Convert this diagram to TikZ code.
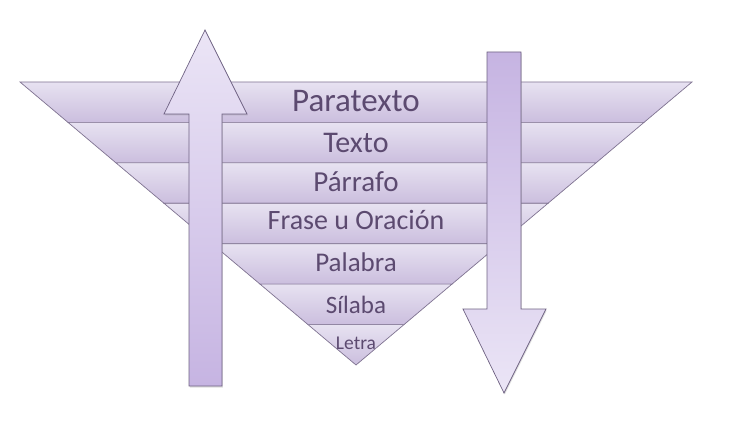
\documentclass[tikz,border=0pt]{standalone}
\usepackage{fontspec}
\setmainfont{Carlito}
\usetikzlibrary{shadows}

\definecolor{bandtop}{HTML}{E7E2F1}
\definecolor{bandbot}{HTML}{CBBEDE}
\definecolor{bandline}{HTML}{7F7391}
\definecolor{arrowlight}{HTML}{EBE5F6}
\definecolor{arrowdark}{HTML}{C6B4E2}
\definecolor{arrowline}{HTML}{6F6283}
\definecolor{labeltext}{HTML}{5C4A70}

\tikzset{
  band/.style={draw=bandline, line width=0.7pt, top color=bandtop, bottom color=bandbot},
  bigarrow/.style={draw=arrowline, line width=0.7pt,
    drop shadow={opacity=0.25, shadow xshift=0.8pt, shadow yshift=-1.5pt}},
  level/.style={text=labeltext, anchor=base, inner sep=0pt}
}

\begin{document}
\begin{tikzpicture}[x=1pt, y=-1pt]
    \useasboundingbox (0,0) rectangle (734,441);
    % Layers of the inverted pyramid
    \shade[band] (20,82)   -- (692,82)    -- (644,122.4) -- (68,122.4)  -- cycle;
    \shade[band] (68,122.4) -- (644,122.4) -- (596,162.9) -- (116,162.9) -- cycle;
    \shade[band] (116,162.9) -- (596,162.9) -- (548,203.3) -- (164,203.3) -- cycle;
    \shade[band] (164,203.3) -- (548,203.3) -- (500,243.7) -- (212,243.7) -- cycle;
    \shade[band] (212,243.7) -- (500,243.7) -- (452,284.1) -- (260,284.1) -- cycle;
    \shade[band] (260,284.1) -- (452,284.1) -- (404,324.6) -- (308,324.6) -- cycle;
    \shade[band] (308,324.6) -- (404,324.6) -- (356,365) -- cycle;
    % Labels
    \node[level, font=\fontsize{33}{33}\selectfont] (paratexto) at (356,111.3) {Paratexto};
    \node[level, font=\fontsize{30}{30}\selectfont] (texto)     at (356,153)   {Texto};
    \node[level, font=\fontsize{29}{29}\selectfont] (parrafo)   at (356,192)   {Párrafo};
    \node[level, font=\fontsize{28}{28}\selectfont] (frase)     at (356,229.7) {Frase u Oración};
    \node[level, font=\fontsize{27}{27}\selectfont] (palabra)   at (356,271.3) {Palabra};
    \node[level, font=\fontsize{25}{25}\selectfont] (silaba)    at (356,313)   {Sílaba};
    \node[level, font=\fontsize{19.5}{19.5}\selectfont] (letra) at (356,349.7) {Letra};
    % Up arrow
    \shade[bigarrow, top color=arrowlight, bottom color=arrowdark]
      (189,386) -- (189,114) -- (164,114) -- (205,30) -- (247,114) -- (222,114) -- (222,386) -- cycle;
    % Down arrow
    \shade[bigarrow, top color=arrowdark, bottom color=arrowlight]
      (487,52) -- (521,52) -- (521,309) -- (546,309) -- (504,393) -- (463,309) -- (487,309) -- cycle;
\end{tikzpicture}
\end{document}
